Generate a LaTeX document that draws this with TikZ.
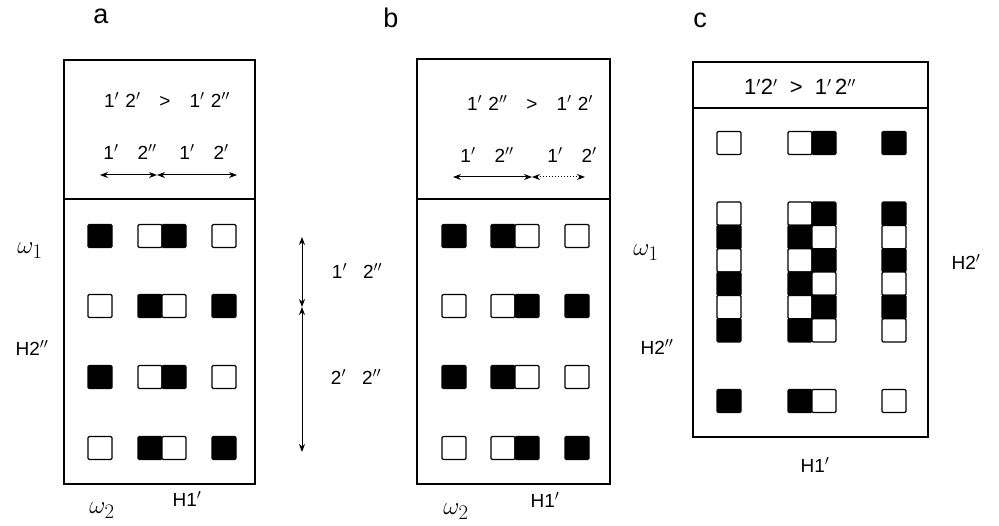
\documentclass[tikz,border=0pt]{standalone}
\usepackage{fontspec}
\setmainfont{Liberation Sans}
\usetikzlibrary{arrows.meta}
\begin{document}
\begin{tikzpicture}[x=1pt,y=-1pt,
  panel/.style={draw,line width=1.6pt},
  sq/.style={draw,line width=1.3pt,minimum width=24pt,minimum height=23pt,inner sep=0pt,rounded corners=1.2pt},
  csq/.style={draw,line width=1.3pt,minimum width=24pt,minimum height=23.3pt,inner sep=0pt,rounded corners=1.2pt},
  lbl/.style={font=\fontsize{19}{19}\selectfont,inner sep=0pt},
  axl/.style={font=\fontsize{19}{19}\selectfont,inner sep=0pt},
  oml/.style={font=\fontsize{29}{29}\selectfont,inner sep=0pt},
  pl/.style={font=\fontsize{27}{27}\selectfont,inner sep=0pt},
  dim/.style={line width=1pt,{Stealth[length=8pt,width=6pt]}-{Stealth[length=8pt,width=6pt]}},
]
\useasboundingbox (0,0) rectangle (999,526);

% ---------- panel a ----------
\node[pl] (la) at (101,16) {a};
\draw[panel] (64,60) rectangle (255,484);
\draw[panel] (64,199) -- (255,199);
\node[lbl] (ah1) at (167,100) {1$'$\,\,2$'$\quad>\quad1$'$\,\,2$''$};
\node[lbl] (ah2) at (130,152) {1$'$\quad2$''$};
\node[lbl] (ah3) at (204,152) {1$'$\quad2$'$};
\coordinate (aa1) at (100,175);
\coordinate (aa2) at (157,175);
\coordinate (aa3) at (237,175);
\draw[dim] (aa1) -- (aa2);
\draw[dim] (aa2) -- (aa3);
\foreach \y/\c/\d in {236/black/white, 306/white/black, 377/black/white, 448/white/black} {
  \node[sq,fill=\c] (a\y-1) at (100,\y) {};
  \node[sq,fill=\d] (a\y-2) at (150,\y) {};
  \node[sq,fill=\c] (a\y-3) at (174,\y) {};
  \node[sq,fill=\d] (a\y-4) at (224,\y) {};
}
\node[oml] (aw1) at (30,251) {$\omega_1$};
\node[axl] (ah2pp) at (32,348) {H2$''$};
\node[oml] (aw2) at (102,511) {$\omega_2$};
\node[axl] (ah1p) at (187,499) {H1$'$};
% vertical dimension arrows
\coordinate (va1) at (302,237);
\coordinate (va2) at (302,307);
\coordinate (va3) at (302,452);
\draw[dim] (va1) -- (va2);
\draw[dim] (va2) -- (va3);
\node[lbl] (vl1) at (357,271) {1$'$\hspace{16pt}2$''$};
\node[lbl] (vl2) at (356,377) {2$'$\hspace{16pt}2$''$};

% ---------- panel b ----------
\node[pl] (lb) at (391,18) {b};
\draw[panel] (417,59) rectangle (610,484);
\draw[panel] (417,199) -- (610,199);
\node[lbl] (bh1) at (530,103) {1$'$\,\,2$''$\quad>\quad1$'$\,\,2$'$};
\node[lbl] (bh2) at (487,155) {1$'$\quad2$''$};
\node[lbl] (bh3) at (572,155) {1$'$\quad2$'$};
\coordinate (ba1) at (453,177);
\coordinate (ba2) at (532,177);
\coordinate (ba3) at (585,177);
\draw[dim] (ba1) -- (ba2);
\draw[dim,dotted] (ba2) -- (ba3);
\foreach \y/\c/\d in {236/black/white, 306/white/black, 377/black/white, 448/white/black} {
  \node[sq,fill=\c] (b\y-1) at (454,\y) {};
  \node[sq,fill=\c] (b\y-2) at (503,\y) {};
  \node[sq,fill=\d] (b\y-3) at (527,\y) {};
  \node[sq,fill=\d] (b\y-4) at (577,\y) {};
}
\node[oml] (bw1) at (646,253) {$\omega_1$};
\node[axl] (bh2pp) at (657,347) {H2$''$};
\node[oml] (bw2) at (456,512) {$\omega_2$};
\node[axl] (bh1p) at (545,500) {H1$'$};

% ---------- panel c ----------
\node[pl] (lc) at (700,20) {c};
\draw[panel] (693,62) rectangle (928,437);
\draw[panel] (693,108) -- (928,108);
\node[font=\fontsize{22}{22}\selectfont,inner sep=0pt] (ch1) at (800,87) {1$'$2$'$\; > \;1$'$\,2$''$};
% top row
\node[sq,fill=white] (c0-1) at (729,143) {};
\node[sq,fill=white] (c0-2) at (800,143) {};
\node[sq,fill=black] (c0-3) at (824,143) {};
\node[sq,fill=black] (c0-4) at (894,143) {};
% checker block
\foreach \i/\c/\d in {0/white/black,1/black/white,2/white/black,3/black/white,4/white/black,5/black/white} {
  \pgfmathsetmacro\yy{213.7+23.33*\i}
  \node[csq,fill=\c] (cm\i-1) at (729,\yy) {};
  \node[csq,fill=\c] (cm\i-2) at (800,\yy) {};
  \node[csq,fill=\d] (cm\i-3) at (824,\yy) {};
  \node[csq,fill=\d] (cm\i-4) at (894,\yy) {};
}
% bottom row
\node[sq,fill=black] (c9-1) at (729,401) {};
\node[sq,fill=black] (c9-2) at (800,401) {};
\node[sq,fill=white] (c9-3) at (824,401) {};
\node[sq,fill=white] (c9-4) at (894,401) {};
\node[axl] (ch2p) at (966,262) {H2$'$};
\node[axl] (ch1p) at (815,465) {H1$'$};
\end{tikzpicture}
\end{document}
